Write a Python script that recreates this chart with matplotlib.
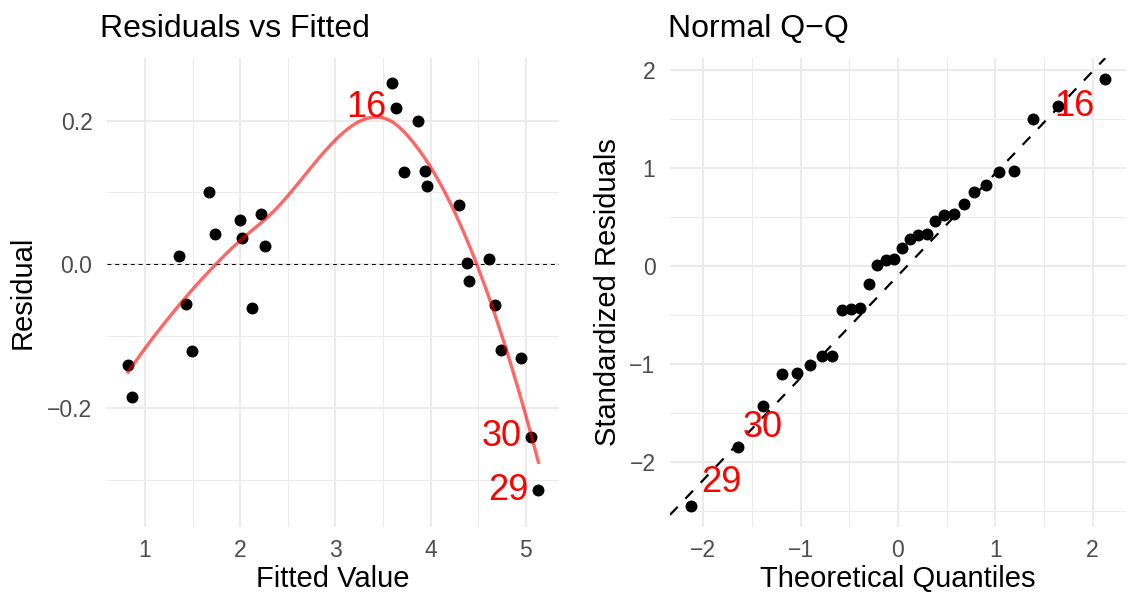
import statistics
import numpy as np
import matplotlib
matplotlib.use('Agg')
import matplotlib.pyplot as plt

plt.rcParams['font.family'] = ['Liberation Sans', 'DejaVu Sans']

# residuals vs fitted
fitted = [0.821, 0.863, 1.357, 1.427, 1.494, 1.676, 1.735, 2.001, 2.022, 2.120,
          2.215, 2.261, 3.598, 3.633, 3.721, 3.871, 3.941, 3.966, 4.298, 4.382,
          4.407, 4.613, 4.676, 4.743, 4.946, 5.055, 5.132]
resid = [-0.141, -0.185, 0.011, -0.056, -0.121, 0.100, 0.042, 0.062, 0.037, -0.061,
         0.070, 0.025, 0.253, 0.218, 0.128, 0.200, 0.130, 0.109, 0.083, 0.001,
         -0.024, 0.007, -0.057, -0.120, -0.131, -0.240, -0.315]
resid_labels = {13: '16', 25: '30', 26: '29'}

# normal q-q (sorted standardized residuals)
std_resid = [-2.441, -1.847, -1.427, -1.095, -1.088, -1.003, -0.919, -0.915, -0.451, -0.433,
             -0.423, -0.184, 0.010, 0.061, 0.078, 0.188, 0.276, 0.317, 0.324, 0.464,
             0.520, 0.530, 0.631, 0.761, 0.826, 0.956, 0.973, 1.505, 1.631, 1.904]
qq_labels = {0: '29', 1: '30', 28: '16'}

x1_ticks = [1, 2, 3, 4, 5]
y1_ticks = [-0.2, 0.0, 0.2]
y1_ticklabels = ['\u22120.2', '0.0', '0.2']
x2_ticks = [-2, -1, 0, 1, 2]
y2_ticks = [-2, -1, 0, 1, 2]
q_ticklabels = ['\u22122', '\u22121', '0', '1', '2']


def local_fit(x, y, x0, q):
    # local quadratic, tricube weights -> value and slope at x0
    d = np.abs(x - x0)
    h = np.sort(d)[q - 1]
    w = np.clip(1 - (d / h) ** 3, 0, None) ** 3
    X = np.column_stack([np.ones_like(x), x - x0, (x - x0) ** 2])
    W = np.diag(w)
    beta = np.linalg.solve(X.T @ W @ X, X.T @ W @ y)
    return beta[0], beta[1]


def split_cells(pts, lo, hi, fc):
    if len(pts) <= fc:
        return [lo, hi]
    m = (len(pts) + 1) // 2
    v = (pts[m - 1] + pts[m]) / 2
    left = split_cells(pts[:m], lo, v, fc)
    right = split_cells(pts[m:], v, hi, fc)
    return left[:-1] + right


def loess(x, y, xs, span=0.75):
    # like R's loess: fits at kd-tree vertices, cubic hermite in between
    x = np.asarray(x, float)
    y = np.asarray(y, float)
    n = len(x)
    q = int(np.floor(n * span))
    fc = int(np.floor(n * span * 0.2))
    mu = 0.005 * (x.max() - x.min())
    verts = split_cells(np.sort(x), x.min() - mu, x.max() + mu, fc)
    fits = [local_fit(x, y, v, q) for v in verts]
    out = []
    for x0 in xs:
        j = min(np.searchsorted(verts, x0, side='right') - 1, len(verts) - 2)
        a, b = verts[j], verts[j + 1]
        (fa, da), (fb, db) = fits[j], fits[j + 1]
        hl = b - a
        t = (x0 - a) / hl
        h00 = 2 * t**3 - 3 * t**2 + 1
        h10 = t**3 - 2 * t**2 + t
        h01 = -2 * t**3 + 3 * t**2
        h11 = t**3 - t**2
        out.append(h00 * fa + h10 * hl * da + h01 * fb + h11 * hl * db)
    return np.array(out)


def style(ax):
    for s in ax.spines.values():
        s.set_visible(False)
    ax.grid(which='major', color='#EBEBEB', lw=1.45)
    ax.grid(which='minor', color='#EBEBEB', lw=0.72)
    ax.set_axisbelow(True)
    ax.tick_params(which='both', length=0, labelsize=16.5, labelcolor='#4D4D4D', pad=10.5)
    ax.tick_params(axis='x', pad=9)


fig = plt.figure(figsize=(11.36, 5.95), dpi=100)
ax1 = fig.add_axes([0.0942, 0.1143, 0.398, 0.788])
ax2 = fig.add_axes([0.5898, 0.1143, 0.4012, 0.788])

# left panel
style(ax1)
ax1.axhline(0, color='black', lw=0.7, ls=(0, (4, 4)), zorder=1)
ax1.scatter(fitted, resid, s=74, color='black', lw=0, zorder=3)
xs = np.linspace(min(fitted), max(fitted), 80)
ax1.plot(xs, loess(fitted, resid, xs), color='red', alpha=0.6, lw=2.4, zorder=4)
for i, lab in resid_labels.items():
    ax1.annotate(lab, (fitted[i], resid[i]), xytext=(-7, 0), textcoords='offset points',
                 ha='right', va='center', color='red', fontsize=26, zorder=5)
ax1.set_xlim(0.601, 5.349)
ax1.set_ylim(-0.366, 0.287)
ax1.set_xticks(x1_ticks)
ax1.set_xticks([1.5, 2.5, 3.5, 4.5], minor=True)
ax1.set_yticks(y1_ticks, y1_ticklabels)
ax1.set_yticks([-0.3, -0.1, 0.1], minor=True)
ax1.set_xlabel('Fitted Value', fontsize=21, labelpad=2)
ax1.set_ylabel('Residual', fontsize=21, labelpad=8)
ax1.set_title('Residuals vs Fitted', loc='left', fontsize=23, pad=15, x=-0.016)

# right panel
style(ax2)
n = len(std_resid)
nd = statistics.NormalDist()
theo = np.array([nd.inv_cdf((i + 0.5) / n) for i in range(n)])
sample = np.array(std_resid)
qy = np.quantile(sample, [0.25, 0.75])
qx = np.array([nd.inv_cdf(0.25), nd.inv_cdf(0.75)])
slope = (qy[1] - qy[0]) / (qx[1] - qx[0])
icpt = qy[0] - slope * qx[0]
ax2.axline((0, icpt), slope=slope, color='black', lw=1.6, ls=(0, (5, 5)), zorder=2)
ax2.scatter(theo, sample, s=74, color='black', lw=0, zorder=3)
offsets = {0: (22, 17), 1: (18, 14), 28: (12, 0)}
for i, lab in qq_labels.items():
    ax2.annotate(lab, (theo[i], sample[i]), xytext=offsets[i], textcoords='offset points',
                 ha='center', va='center', color='red', fontsize=26, zorder=5)
pad_x = 0.05 * (theo.max() - theo.min())
pad_y = 0.05 * (sample.max() - sample.min())
ax2.set_xlim(theo.min() - pad_x, theo.max() + pad_x)
ax2.set_ylim(sample.min() - pad_y, sample.max() + pad_y)
ax2.set_xticks(x2_ticks, q_ticklabels)
ax2.set_xticks([-1.5, -0.5, 0.5, 1.5], minor=True)
ax2.set_yticks(y2_ticks, q_ticklabels)
ax2.set_yticks([-2.5, -1.5, -0.5, 0.5, 1.5], minor=True)
ax2.set_xlabel('Theoretical Quantiles', fontsize=21, labelpad=2)
ax2.set_ylabel('Standardized Residuals', fontsize=21, labelpad=5)
ax2.set_title('Normal Q\u2212Q', loc='left', fontsize=23, pad=15, x=-0.004)

fig.savefig('out.png', dpi=100)
